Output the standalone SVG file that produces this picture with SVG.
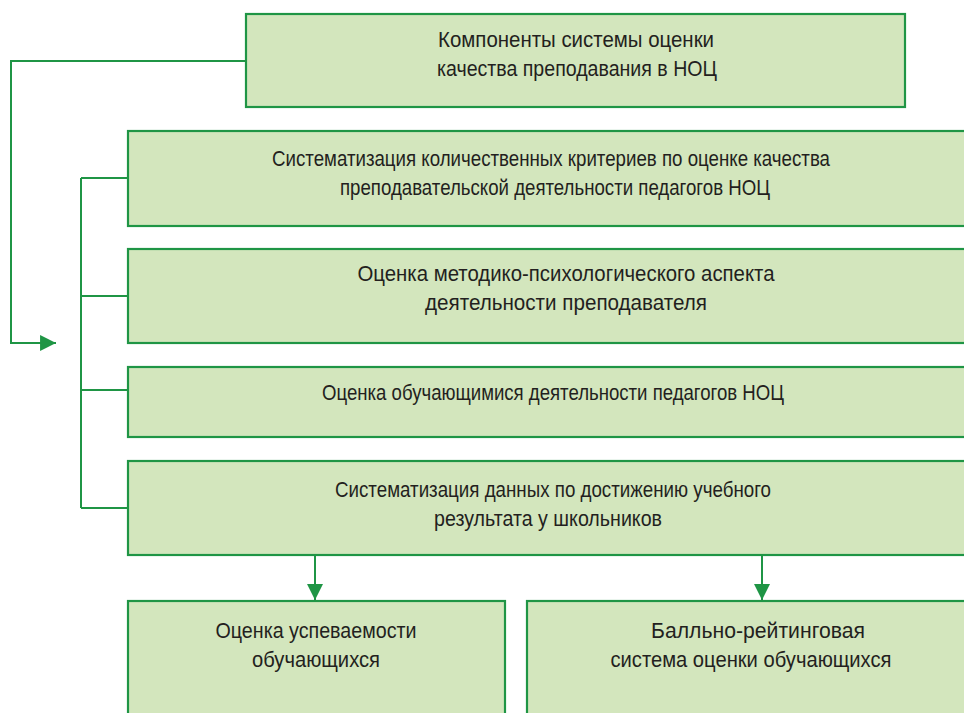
<svg xmlns="http://www.w3.org/2000/svg" width="964" height="713" viewBox="0 0 964 713">
<style>
.box{fill:#d3e6bd;stroke:#1f9545;stroke-width:2.2}
.t{font-family:"Liberation Sans",Arial,sans-serif;font-size:22px;fill:#231f20;text-anchor:middle}
.c{fill:none;stroke:#1f9545;stroke-width:2}
</style>
<defs>
<marker id="ah" markerUnits="userSpaceOnUse" markerWidth="17" markerHeight="17" viewBox="0 0 16 16" refX="15" refY="8" orient="auto">
<path d="M0,0.5 L15,8 L0,15.5 Z" fill="#1f9545"/>
</marker>
</defs>
<g id="connectors">
<path class="c" d="M246,61 H11 V343 H56" marker-end="url(#ah)"/>
<path class="c" d="M81,178 V508"/>
<path class="c" d="M81,178 H128 M81,296 H128 M81,390 H128 M81,508 H128"/>
<path class="c" d="M315,555 V600" marker-end="url(#ah)"/>
<path class="c" d="M762,555 V600" marker-end="url(#ah)"/>
</g>
<g id="n0">
<rect class="box" x="246" y="14" width="659" height="93"/>
<text class="t" x="576" y="47" textLength="276" lengthAdjust="spacingAndGlyphs">Компоненты системы оценки</text>
<text class="t" x="577" y="76" textLength="280" lengthAdjust="spacingAndGlyphs">качества преподавания в НОЦ</text>
</g>
<g id="n1">
<rect class="box" x="128" y="131" width="850" height="95"/>
<text class="t" x="551" y="166" textLength="558" lengthAdjust="spacingAndGlyphs">Систематизация количественных критериев по оценке качества</text>
<text class="t" x="555" y="195" textLength="430" lengthAdjust="spacingAndGlyphs">преподавательской деятельности педагогов НОЦ</text>
</g>
<g id="n2">
<rect class="box" x="128" y="249" width="850" height="94"/>
<text class="t" x="566" y="281" textLength="417" lengthAdjust="spacingAndGlyphs">Оценка методико-психологического аспекта</text>
<text class="t" x="566" y="310" textLength="282" lengthAdjust="spacingAndGlyphs">деятельности преподавателя</text>
</g>
<g id="n3">
<rect class="box" x="128" y="367" width="850" height="70"/>
<text class="t" x="553" y="400" textLength="462" lengthAdjust="spacingAndGlyphs">Оценка обучающимися деятельности педагогов НОЦ</text>
</g>
<g id="n4">
<rect class="box" x="128" y="461" width="850" height="94"/>
<text class="t" x="553" y="497" textLength="436" lengthAdjust="spacingAndGlyphs">Систематизация данных по достижению учебного</text>
<text class="t" x="548" y="526" textLength="228" lengthAdjust="spacingAndGlyphs">результата у школьников</text>
</g>
<g id="n5">
<rect class="box" x="128" y="601" width="377" height="125"/>
<text class="t" x="316" y="638" textLength="201" lengthAdjust="spacingAndGlyphs">Оценка успеваемости</text>
<text class="t" x="316" y="667" textLength="128" lengthAdjust="spacingAndGlyphs">обучающихся</text>
</g>
<g id="n6">
<rect class="box" x="527" y="601" width="450" height="125"/>
<text class="t" x="758" y="638" textLength="214" lengthAdjust="spacingAndGlyphs">Балльно-рейтинговая</text>
<text class="t" x="751" y="667" textLength="281" lengthAdjust="spacingAndGlyphs">система оценки обучающихся</text>
</g>
</svg>
